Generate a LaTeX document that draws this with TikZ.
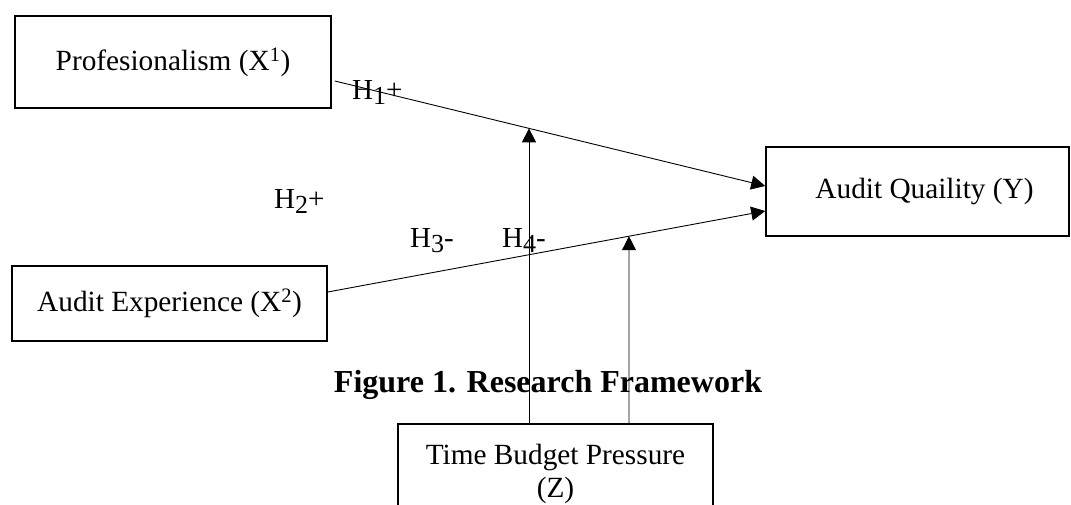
\documentclass[tikz,border=0pt]{standalone}
\usepackage{fontspec}
\setmainfont{Liberation Serif}
\usetikzlibrary{arrows.meta}
\newcommand{\hsub}[1]{\raisebox{-0.16em}{\fontsize{26}{26}\selectfont #1}}
\begin{document}
\begin{tikzpicture}[x=1pt,y=1pt,
  varbox/.style={draw,line width=1.6pt,font=\fontsize{29.3}{33}\selectfont,inner sep=0pt},
  link/.style={line width=0.9pt,-{Triangle[length=14pt,width=14pt]}},
  hyp/.style={font=\fontsize{29}{30}\selectfont,inner sep=0pt,anchor=base west}]
\useasboundingbox (0,0) rectangle (1071,505);
% variables
\node[varbox,minimum width=316pt,minimum height=92pt] (X1) at (173,443) {Profesionalism (X\textsuperscript{1})};
\node[varbox,minimum width=315pt,minimum height=75pt] (X2) at (169.5,201.5) {Audit Experience (X\textsuperscript{2})};
\node[varbox,minimum width=303pt,minimum height=89pt] (Y) at (917.5,313.5) {\hspace*{14pt}Audit Quaility (Y)};
\node[varbox,minimum width=315pt,minimum height=100pt,anchor=north,align=center] (Z) at (555.5,82) {Time Budget Pressure\\(Z)};
% direct effects
\coordinate (s1) at ([xshift=3pt,yshift=-19pt]X1.east);
\coordinate (e1) at ([yshift=5.5pt]Y.west);
\coordinate (s2) at ([yshift=11.5pt]X2.east);
\coordinate (e2) at ([yshift=-19.5pt]Y.west);
\draw[link] (s1) -- (e1);
\draw[link] (s2) -- (e2);
% moderating effects
\coordinate (m1) at ([xshift=-26.5pt]Z.north);
\coordinate (m2) at ([xshift=73.5pt]Z.north);
\draw[link] (m1) -- (intersection of s1--e1 and m1--{[yshift=100pt]m1});
\draw[link] (m2) -- (intersection of s2--e2 and m2--{[yshift=100pt]m2});
% hypothesis labels
\node[hyp] (h1) at (352,405) {H\hsub{1}+};
\node[hyp] (h2) at (274,296) {H\hsub{2}+};
\node[hyp] (h3) at (410,257) {H\hsub{3}-};
\node[hyp] (h4) at (502,257) {H\hsub{4}-};
% caption
\node[font=\bfseries\fontsize{32}{36}\selectfont,inner sep=0pt,anchor=base] (cap) at (548,112) {Figure 1. Research Framework};
\end{tikzpicture}
\end{document}
